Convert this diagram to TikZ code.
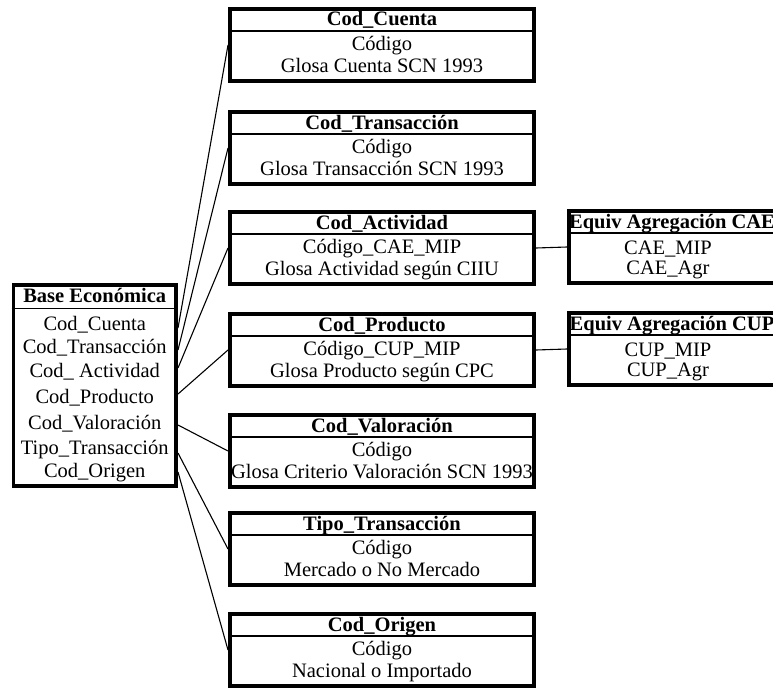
\documentclass[tikz,border=0pt]{standalone}
\usepackage{fontspec}
\setmainfont{Liberation Serif}
\newcommand\mkrtab[5]{%
  \node[rbox] (#1) at (228,#2) {};
  \draw[div] ([yshift=-24pt]#1.north west) -- ([yshift=-24pt]#1.north east);
  \node[ttl] (#1-t) at ([yshift=-14pt]#1.north) {#3};
  \node[txt] (#1-a) at ([yshift=-38.5pt]#1.north) {#4};
  \node[txt] (#1-b) at ([yshift=-60.5pt]#1.north) {#5};
}
\newcommand\mketab[5]{%
  \node[ebox] (#1) at (567,#2) {};
  \draw[div] ([yshift=-24pt]#1.north west) -- ([yshift=-24pt]#1.north east);
  \node[ttl] (#1-t) at (672,#2+14) {#3};
  \node[txt] (#1-a) at (668,#2+40) {#4};
  \node[txt] (#1-b) at (668,#2+60) {#5};
}
\begin{document}
\begin{tikzpicture}[x=1pt,y=-1pt,
  box/.style={draw, line width=3.8pt, inner sep=0pt, anchor=north west},
  rbox/.style={box, minimum width=304.2pt, minimum height=72.2pt},
  ebox/.style={box, minimum width=220pt, minimum height=72.2pt},
  bbox/.style={box, minimum width=162.7pt, minimum height=201.2pt},
  txt/.style={inner sep=0pt, text height=14pt, text depth=4pt, font=\fontsize{20.5}{23}\selectfont},
  ttl/.style={txt, font=\fontsize{20.5}{23}\selectfont\bfseries},
  conn/.style={line width=1.1pt},
  div/.style={line width=1.8pt}]
\useasboundingbox (0,0) rectangle (773,690);
\fill[white] (0,0) rectangle (773,690);

% base table
\node[bbox] (base) at (11.5,283) {};
\draw[div] ([yshift=-25.5pt]base.north west) -- ([yshift=-25.5pt]base.north east);
\node[ttl] (bT) at (94.75,297) {Base Económica};
\node[txt] (rCue) at (94.75,325) {Cod\_Cuenta};
\node[txt] (rTra) at (94.75,348) {Cod\_Transacción};
\node[txt] (rAct) at (94.75,372) {Cod\_ Actividad};
\node[txt] (rPro) at (94.75,398) {Cod\_Producto};
\node[txt] (rVal) at (94.75,424) {Cod\_Valoración};
\node[txt] (rTip) at (94.75,449) {Tipo\_Transacción};
\node[txt] (rOri) at (94.75,472) {Cod\_Origen};

% right tables
\mkrtab{cue}{7}{Cod\_Cuenta}{Código}{Glosa Cuenta SCN 1993}
\mkrtab{tra}{110}{Cod\_Transacción}{Código}{Glosa Transacción SCN 1993}
\mkrtab{act}{210}{Cod\_Actividad}{Código\_CAE\_MIP}{Glosa Actividad según CIIU}
\mkrtab{pro}{312}{Cod\_Producto}{Código\_CUP\_MIP}{Glosa Producto según CPC}
\mkrtab{val}{413}{Cod\_Valoración}{Código}{Glosa Criterio Valoración SCN 1993}
\mkrtab{tip}{511}{Tipo\_Transacción}{Código}{Mercado o No Mercado}
\mkrtab{ori}{612}{Cod\_Origen}{Código}{Nacional o Importado}

% equivalence tables (their right side runs past the picture's edge)
\mketab{cae}{209}{Equiv Agregación CAE}{CAE\_MIP}{CAE\_Agr}
\mketab{cup}{311}{Equiv Agregación CUP}{CUP\_MIP}{CUP\_Agr}

% connector start points on the base table
\coordinate (sCue) at ([yshift=-3pt]base.east |- rCue);
\coordinate (sTra) at ([yshift=-2pt]base.east |- rTra);
\coordinate (sAct) at ([yshift=4pt]base.east |- rAct);
\coordinate (sPro) at ([yshift=4pt]base.east |- rPro);
\coordinate (sVal) at ([yshift=-1pt]base.east |- rVal);
\coordinate (sTip) at ([yshift=-4pt]base.east |- rTip);
\coordinate (sOri) at (base.east |- rOri);

\draw[conn] (sCue) -- (cue.west);
\draw[conn] (sTra) -- (tra.west);
\draw[conn] (sAct) -- (act.west);
\draw[conn] (sPro) -- (pro.west);
\draw[conn] (sVal) -- (val.west);
\draw[conn] (sTip) -- (tip.west);
\draw[conn] (sOri) -- (ori.west);
\draw[conn] (act.east) -- (cae.west);
\draw[conn] (pro.east) -- (cup.west);
\end{tikzpicture}
\end{document}
